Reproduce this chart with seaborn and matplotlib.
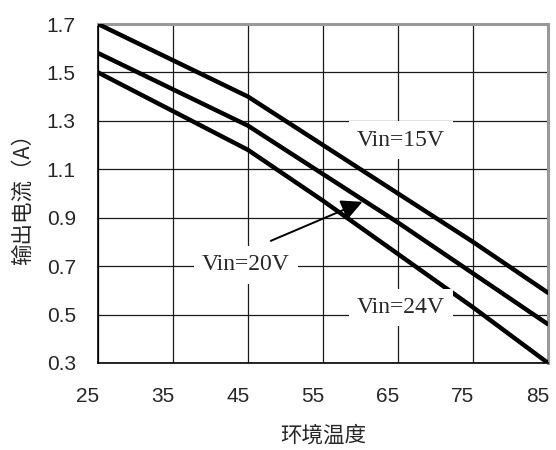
import numpy as np
import pandas as pd
import seaborn as sns
import matplotlib.pyplot as plt
from matplotlib.transforms import ScaledTranslation

# ambient temperature (deg C) and output current (A) per input voltage
temps = [25, 35, 45, 55, 65, 75, 85]
i_15v = [1.70, 1.55, 1.40, 1.20, 1.00, 0.80, 0.59]
i_20v = [1.58, 1.43, 1.28, 1.08, 0.88, 0.67, 0.46]
i_24v = [1.50, 1.34, 1.18, 0.97, 0.75, 0.53, 0.30]
series_names = ['Vin=15V', 'Vin=20V', 'Vin=24V']
x_ticks = [25, 35, 45, 55, 65, 75, 85]
y_ticks = [0.3, 0.5, 0.7, 0.9, 1.1, 1.3, 1.5, 1.7]

df = pd.DataFrame({
    'temp': temps * 3,
    'current': i_15v + i_20v + i_24v,
    'vin': [n for n in series_names for _ in temps],
})

sns.set_theme(style='white')
plt.rcParams['font.family'] = ['Liberation Sans', 'Noto Sans CJK SC', 'DejaVu Sans']

fig = plt.figure(figsize=(5.56, 4.5), dpi=100)
ax = fig.add_axes([98 / 556, 87 / 450, 450 / 556, 339 / 450])

sns.lineplot(data=df, x='temp', y='current', hue='vin', palette=['black'] * 3,
             linewidth=3.2, legend=False, ax=ax, zorder=3)

ax.set_xlim(25, 85)
ax.set_ylim(0.3, 1.7)
ax.set_xticks(x_ticks)
ax.set_yticks(y_ticks)
ax.set_xticklabels([str(t) for t in x_ticks], fontsize=15)
ax.set_yticklabels([f'{v:.1f}' for v in y_ticks], fontsize=15)
ax.tick_params(axis='both', length=0)
ax.tick_params(axis='x', pad=17)
ax.tick_params(axis='y', pad=16)
shift = ScaledTranslation(-10 / 100, 0, fig.dpi_scale_trans)
for lab in ax.get_xticklabels():
    lab.set_transform(lab.get_transform() + shift)

ax.grid(True, color='#1a1a1a', linewidth=0.9)
ax.set_axisbelow(True)
for side in ['left', 'bottom']:
    ax.spines[side].set_color('black')
    ax.spines[side].set_linewidth(1.2)
for side in ['top', 'right']:
    ax.spines[side].set_color('#999999')
    ax.spines[side].set_linewidth(2.2)

cjk = ['Noto Sans CJK SC', 'DejaVu Sans']
ax.set_xlabel('环境温度', fontsize=15.5, family=cjk, labelpad=14)
ax.set_ylabel('输出电流（A）', fontsize=15.5, family=cjk, labelpad=9)

box = dict(boxstyle='square,pad=0.35', facecolor='white', edgecolor='none')
label_pos = {'Vin=15V': (65.4, 1.22), 'Vin=20V': (44.7, 0.705), 'Vin=24V': (65.4, 0.53)}
for name in series_names:
    x, y = label_pos[name]
    ax.text(x, y, name, ha='center', va='center', fontsize=17,
            family='Liberation Serif', bbox=box, zorder=5)

ax.annotate('', xy=(60.6, 0.97), xytext=(47.7, 0.80),
            arrowprops=dict(arrowstyle='-|>', color='black', lw=1.4, mutation_scale=32),
            zorder=6)

fig.savefig('out.png', dpi=100)
